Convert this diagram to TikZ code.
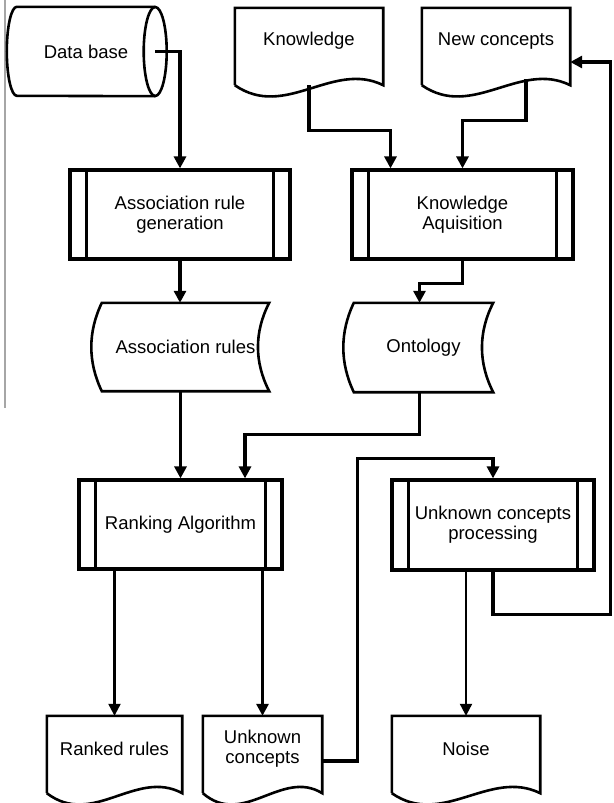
\documentclass[tikz,border=0pt]{standalone}
\usepackage{fontspec}
\setmainfont{Liberation Sans}
\usetikzlibrary{arrows.meta,calc}

\tikzset{
  seta/.style={line width=3.2pt, -{Triangle[length=12pt,width=12pt]}},
  setafina/.style={line width=2.2pt, -{Triangle[length=12pt,width=12pt]}},
  processo/.style={draw, line width=3.2pt, align=center, inner sep=0pt},
  rotulo/.style={align=center, inner sep=0pt},
  contorno/.style={line width=2.6pt},
}

% documento com base ondulada
\newcommand\documento[1]{%
  \draw[contorno] ($(#1.south west)+(0,-11pt)$) -- (#1.north west) -- (#1.north east) -- ($(#1.south east)+(0,-11pt)$)
    .. controls ($(#1.south east)!0.34!(#1.south west)+(0,14pt)$) and ($(#1.south east)!0.66!(#1.south west)+(0,-46pt)$) .. ($(#1.south west)+(0,-11pt)$);}
% dados armazenados
\newcommand\armazenado[1]{%
  \draw[contorno] (#1.north west) -- (#1.north east)
    .. controls ($(#1.north east)!0.33!(#1.south east)+(-15pt,0)$) and ($(#1.north east)!0.67!(#1.south east)+(-15pt,0)$) .. (#1.south east)
    -- (#1.south west)
    .. controls ($(#1.south west)!0.33!(#1.north west)+(-14pt,0)$) and ($(#1.south west)!0.67!(#1.north west)+(-14pt,0)$) .. (#1.north west) -- cycle;}

\begin{document}
\begin{tikzpicture}[x=1pt, y=-1pt, font=\fontsize{18.5}{20}\selectfont]
    \useasboundingbox (0,0) rectangle (613,803);
    % linha cinzenta na margem
    \draw[gray!70, line width=1.5pt] (5,0) -- (5,408);
    % base de dados
    \node[rotulo, minimum width=138pt, minimum height=89pt] (db) at (86,51.5) {Data base};
    \draw[contorno] (db.north east) -- (db.north west) arc[start angle=90, end angle=270, x radius=10pt, y radius=44.5pt] -- (db.south east);
    \draw[contorno] (db.east) ellipse[x radius=11.5pt, y radius=44.5pt];
    % documentos
    \node[rotulo, minimum width=148pt, minimum height=66pt] (kn) at (309,41) {Knowledge};
    \node[rotulo, minimum width=148pt, minimum height=66pt] (nc) at (496,41) {New concepts};
    \node[rotulo, minimum width=135pt, minimum height=66pt] (rr) at (114.5,749) {Ranked rules};
    \node[rotulo, minimum width=119pt, minimum height=66pt] (uc) at (262.5,749) {Unknown\\concepts};
    \node[rotulo, minimum width=148pt, minimum height=66pt] (noise) at (466,749) {Noise};
    \foreach \d in {kn,nc,rr,uc,noise}{
        \documento{\d}
    }
    % processos
    \node[processo, minimum width=220pt, minimum height=89pt] (arg) at (180,214.5) {Association rule\\generation};
    \node[processo, minimum width=221pt, minimum height=89pt] (ka) at (462.5,214.5) {Knowledge\\Aquisition};
    \node[processo, minimum width=203pt, minimum height=89pt] (rank) at (180.5,524.5) {Ranking Algorithm};
    \node[processo, minimum width=202pt, minimum height=90pt] (ucp) at (493,525) {Unknown concepts\\processing};
    \foreach \p in {arg,ka,rank,ucp}{
        \draw[line width=3.2pt] ([xshift=18pt]\p.north west) -- ([xshift=18pt]\p.south west)
              ([xshift=-18pt]\p.north east) -- ([xshift=-18pt]\p.south east);
    }
    % dados armazenados
    \node[rotulo, minimum width=167pt, minimum height=88pt] (ar) at (185.5,347) {Association rules};
    \node[rotulo, minimum width=139pt, minimum height=89pt] (onto) at (423.5,347.5) {Ontology};
    \armazenado{ar}
    \armazenado{onto}
    % ligacoes
    \draw[seta] (db.east) -| (arg.north);
    \draw[seta] ([yshift=-11pt]kn.south) |- ([xshift=-72pt,yshift=38pt]ka.north) -- ([xshift=-72pt]ka.north);
    \draw[seta] ([xshift=30pt,yshift=-5pt]nc.south) |- ([yshift=48pt]ka.north) -- (ka.north);
    \draw[seta] (arg.south) -- (arg.south |- ar.north);
    \draw[seta] (ka.south) -- ++(0,-23pt) -| ([xshift=-4pt]onto.north);
    \draw[seta] (rank.north |- ar.south) -- (rank.north);
    \draw[seta] ([xshift=-4pt]onto.south) |- ([xshift=64.5pt,yshift=44pt]rank.north) -- ([xshift=64.5pt]rank.north);
    \draw[setafina] (rr.north |- rank.south) -- (rr.north);
    \draw[seta] (uc.north |- rank.south) -- (uc.north);
    \draw[seta] ([yshift=-12pt]uc.east) -- ++(35pt,0) |- ([yshift=20pt]ucp.north) -- (ucp.north);
    \draw[setafina] (noise.north |- ucp.south) -- (noise.north);
    \draw[seta] (ucp.south) -- ++(0,-43pt) -| ([xshift=40pt,yshift=-21pt]nc.east) -- ([yshift=-21pt]nc.east);
\end{tikzpicture}
\end{document}
